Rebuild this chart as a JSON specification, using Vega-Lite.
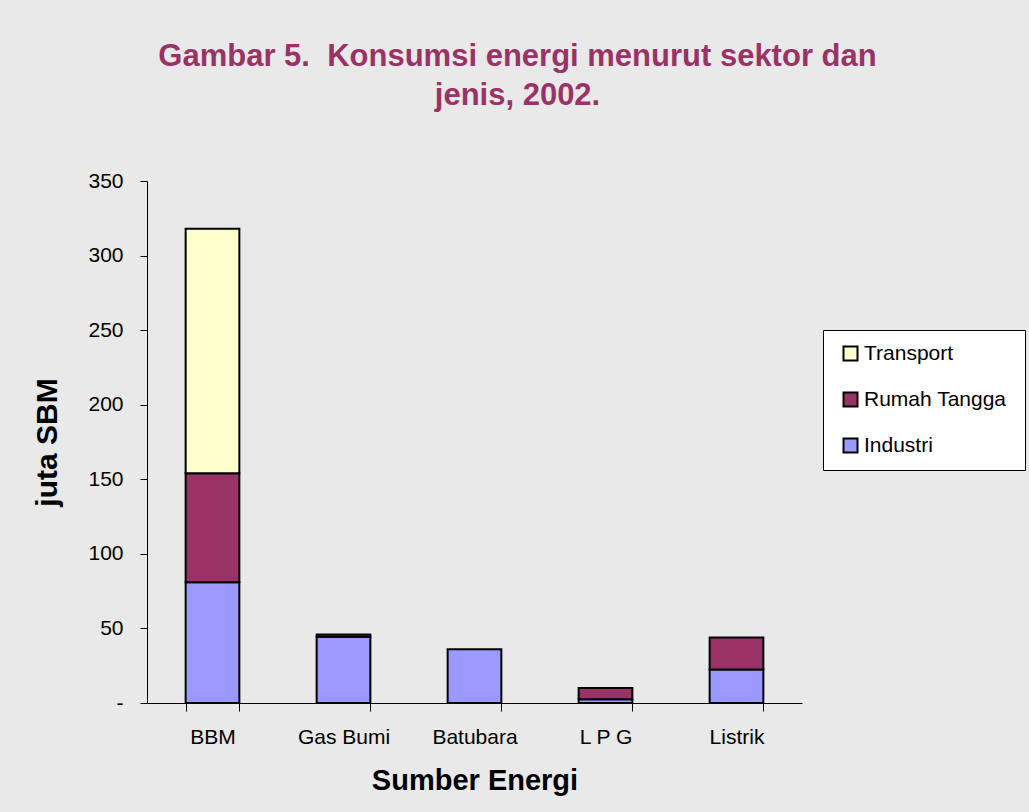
{
  "$schema": "https://vega.github.io/schema/vega-lite/v6.json",
  "autosize": {"type": "none"},
  "width": 655,
  "height": 522,
  "padding": {"left": 147, "top": 181, "right": 227, "bottom": 109},
  "background": "#e9e9e9",
  "title": {
    "text": ["Gambar 5. \u00a0Konsumsi energi menurut sektor dan", "jenis, 2002."],
    "font": "Liberation Sans",
    "fontSize": 31,
    "fontWeight": "bold",
    "color": "#993366",
    "lineHeight": 39,
    "anchor": "middle",
    "dx": 43,
    "offset": 58
  },
  "data": {
    "values": [
      {"sumber": "BBM", "sektor": "Industri", "ord": 1, "nilai": 81},
      {"sumber": "BBM", "sektor": "Rumah Tangga", "ord": 2, "nilai": 73},
      {"sumber": "BBM", "sektor": "Transport", "ord": 3, "nilai": 164},
      {"sumber": "Gas Bumi", "sektor": "Industri", "ord": 1, "nilai": 44.5},
      {"sumber": "Gas Bumi", "sektor": "Rumah Tangga", "ord": 2, "nilai": 1.5},
      {"sumber": "Batubara", "sektor": "Industri", "ord": 1, "nilai": 36},
      {"sumber": "L P G", "sektor": "Industri", "ord": 1, "nilai": 2.5},
      {"sumber": "L P G", "sektor": "Rumah Tangga", "ord": 2, "nilai": 7.5},
      {"sumber": "Listrik", "sektor": "Industri", "ord": 1, "nilai": 22.5},
      {"sumber": "Listrik", "sektor": "Rumah Tangga", "ord": 2, "nilai": 21.5}
    ]
  },
  "config": {
    "view": {"stroke": null},
    "font": "Liberation Sans"
  },
  "mark": {"type": "bar", "stroke": "black", "strokeWidth": 2},
  "encoding": {
    "x": {
      "field": "sumber",
      "type": "nominal",
      "sort": ["BBM", "Gas Bumi", "Batubara", "L P G", "Listrik"],
      "scale": {"paddingInner": 0.59, "paddingOuter": 0.295},
      "axis": {
        "title": "Sumber Energi",
        "titleFont": "Liberation Sans",
        "titleFontSize": 29,
        "titleFontWeight": "bold",
        "titleColor": "black",
        "titlePadding": 19,
        "labelAngle": 0,
        "labelFont": "Liberation Sans",
        "labelFontSize": 21,
        "labelColor": "black",
        "labelPadding": 15,
        "tickBand": "extent",
        "tickSize": 8,
        "tickColor": "black",
        "domainColor": "black",
        "grid": false
      }
    },
    "y": {
      "field": "nilai",
      "type": "quantitative",
      "aggregate": "sum",
      "scale": {"domain": [0, 350], "nice": false},
      "axis": {
        "title": "juta SBM",
        "titleFont": "Liberation Sans",
        "titleFontSize": 30,
        "titleFontWeight": "bold",
        "titleColor": "black",
        "titlePadding": 25,
        "values": [0, 50, 100, 150, 200, 250, 300, 350],
        "labelExpr": "datum.value == 0 ? '-' : datum.label",
        "labelFont": "Liberation Sans",
        "labelFontSize": 21,
        "labelColor": "black",
        "labelPadding": 17,
        "tickSize": 7,
        "tickColor": "black",
        "domainColor": "black",
        "grid": false
      }
    },
    "color": {
      "field": "sektor",
      "type": "nominal",
      "scale": {
        "domain": ["Transport", "Rumah Tangga", "Industri"],
        "range": ["#ffffcc", "#993366", "#9999ff"]
      },
      "legend": {
        "title": "  ",
        "titleOrient": "right",
        "titleFontSize": 10,
        "titlePadding": 6,
        "orient": "none",
        "legendX": 676,
        "legendY": 149,
        "fillColor": "white",
        "strokeColor": "black",
        "padding": 13,
        "symbolType": "square",
        "symbolSize": 196,
        "symbolStrokeColor": "black",
        "symbolStrokeWidth": 2,
        "symbolOffset": 4,
        "labelFont": "Liberation Sans",
        "labelFontSize": 21,
        "labelColor": "black",
        "labelOffset": 3,
        "rowPadding": 23
      }
    },
    "order": {"field": "ord", "type": "quantitative", "sort": "ascending"}
  }
}
